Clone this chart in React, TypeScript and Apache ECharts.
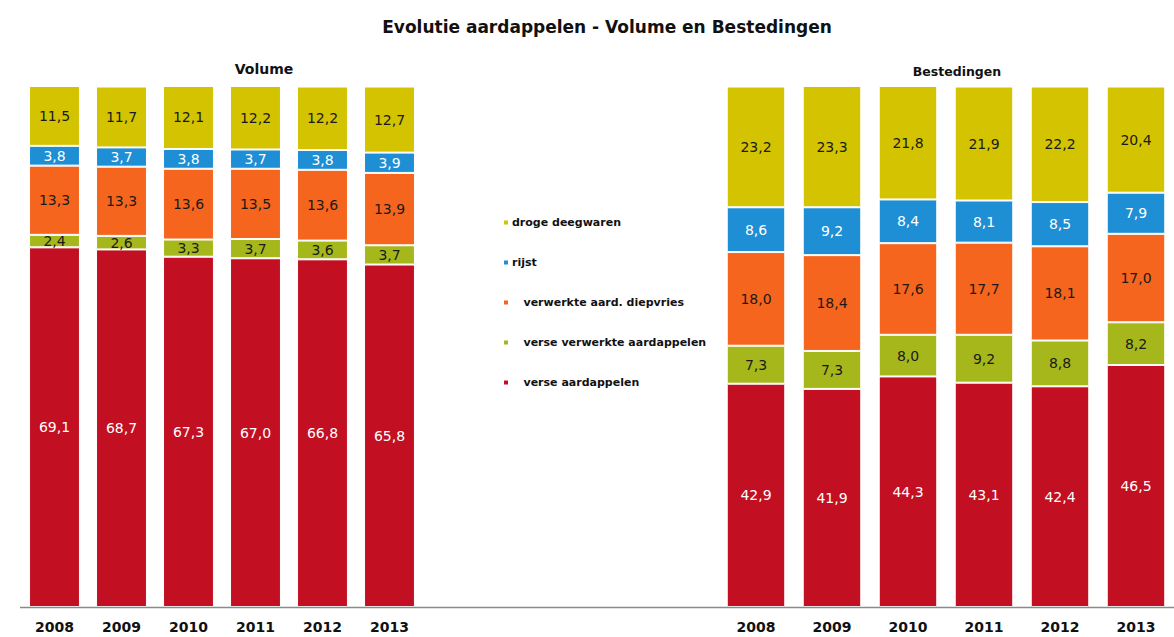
import React, { useEffect, useRef } from "react";
import * as echarts from "echarts";

const years = ["2008", "2009", "2010", "2011", "2012", "2013"];
const seriesNames = [
  "verse aardappelen",
  "verse verwerkte aardappelen",
  "verwerkte aard. diepvries",
  "rijst",
  "droge deegwaren",
];
const colors = ["#c20f22", "#a6b71c", "#f5651d", "#1e8fd5", "#d3c300"];
const labelColors = ["#ffffff", "#1a1a1a", "#1a1a1a", "#ffffff", "#1a1a1a"];

// Volume (%)
const volVerse = [69.1, 68.7, 67.3, 67.0, 66.8, 65.8];
const volVerseVerwerkt = [2.4, 2.6, 3.3, 3.7, 3.6, 3.7];
const volDiepvries = [13.3, 13.3, 13.6, 13.5, 13.6, 13.9];
const volRijst = [3.8, 3.7, 3.8, 3.7, 3.8, 3.9];
const volDeegwaren = [11.5, 11.7, 12.1, 12.2, 12.2, 12.7];

// Bestedingen (%)
const bestVerse = [42.9, 41.9, 44.3, 43.1, 42.4, 46.5];
const bestVerseVerwerkt = [7.3, 7.3, 8.0, 9.2, 8.8, 8.2];
const bestDiepvries = [18.0, 18.4, 17.6, 17.7, 18.1, 17.0];
const bestRijst = [8.6, 9.2, 8.4, 8.1, 8.5, 7.9];
const bestDeegwaren = [23.2, 23.3, 21.8, 21.9, 22.2, 20.4];

const volData = [volVerse, volVerseVerwerkt, volDiepvries, volRijst, volDeegwaren];
const bestData = [bestVerse, bestVerseVerwerkt, bestDiepvries, bestRijst, bestDeegwaren];

const legendOrder = [
  "droge deegwaren",
  "rijst",
  "verwerkte aard. diepvries",
  "verse verwerkte aardappelen",
  "verse aardappelen",
];
const indented = new Set([
  "verwerkte aard. diepvries",
  "verse verwerkte aardappelen",
  "verse aardappelen",
]);

const FONT = "'DejaVu Sans', 'Liberation Sans', Arial, sans-serif";

export default function App() {
  const ref = useRef<HTMLDivElement>(null);

  useEffect(() => {
    if (!ref.current) return;
    const chart = echarts.init(ref.current, undefined, { renderer: "svg" });

    const makeSeries = (data: number[][], idx: number, stack: string, barGap: string) =>
      data.map((vals, i) => ({
        name: seriesNames[i],
        type: "bar",
        stack,
        xAxisIndex: idx,
        yAxisIndex: idx,
        data: vals,
        barCategoryGap: barGap,
        itemStyle: { color: colors[i], borderColor: "#ffffff", borderWidth: 1 },
        label: {
          show: true,
          position: "inside",
          color: labelColors[i],
          fontFamily: FONT,
          fontSize: 14,
          formatter: (p: any) => Number(p.value).toFixed(1).replace(".", ","),
        },
        emphasis: { disabled: true },
      }));

    const xAxisCommon = {
      type: "category",
      data: years,
      axisLine: { show: false },
      axisTick: { show: false },
      axisLabel: {
        color: "#111",
        fontFamily: FONT,
        fontWeight: "bold",
        fontSize: 14,
        margin: 13,
      },
    };
    const yAxisCommon = {
      type: "value",
      min: 0,
      max: 100.1,
      show: false,
      splitLine: { show: false },
    };

    chart.setOption({
      animation: false,
      backgroundColor: "#ffffff",
      title: [
        {
          text: "Evolutie aardappelen - Volume en Bestedingen",
          left: 602,
          top: 13,
          textAlign: "center",
          textStyle: { fontFamily: FONT, fontWeight: "bold", fontSize: 17, color: "#111" },
        },
        {
          text: "Volume",
          left: 259,
          top: 57,
          textAlign: "center",
          textStyle: { fontFamily: FONT, fontWeight: "bold", fontSize: 14, color: "#111" },
        },
        {
          text: "Bestedingen",
          left: 952,
          top: 60,
          textAlign: "center",
          textStyle: { fontFamily: FONT, fontWeight: "bold", fontSize: 12.5, color: "#111" },
        },
      ],
      legend: {
        orient: "vertical",
        left: 497,
        top: 212,
        itemGap: 29,
        itemWidth: 6,
        itemHeight: 6,
        icon: "rect",
        data: legendOrder,
        selectedMode: false,
        formatter: (name: string) => (indented.has(name) ? "   " + name : name),
        textStyle: { fontFamily: FONT, fontWeight: "bold", fontSize: 11, color: "#111", padding: [0, 0, 0, -2] },
      },
      grid: [
        { left: 21, width: 402, top: 86, bottom: 30 },
        { left: 718, width: 462, top: 86, bottom: 30 },
      ],
      xAxis: [
        { ...xAxisCommon, gridIndex: 0 },
        { ...xAxisCommon, gridIndex: 1 },
      ],
      yAxis: [
        { ...yAxisCommon, gridIndex: 0 },
        { ...yAxisCommon, gridIndex: 1 },
      ],
      graphic: [
        {
          type: "line",
          shape: { x1: 20, y1: 607.5, x2: 1174, y2: 607.5 },
          style: { stroke: "#8a8a8a", lineWidth: 1.5 },
          z: 10,
        },
      ],
      series: [...makeSeries(volData, 0, "vol", "24%"), ...makeSeries(bestData, 1, "best", "23%")],
    });

    return () => chart.dispose();
  }, []);

  return (
    <div
      ref={ref}
      style={{ position: "absolute", left: 0, top: 0, width: 1174, height: 637 }}
    />
  );
}
